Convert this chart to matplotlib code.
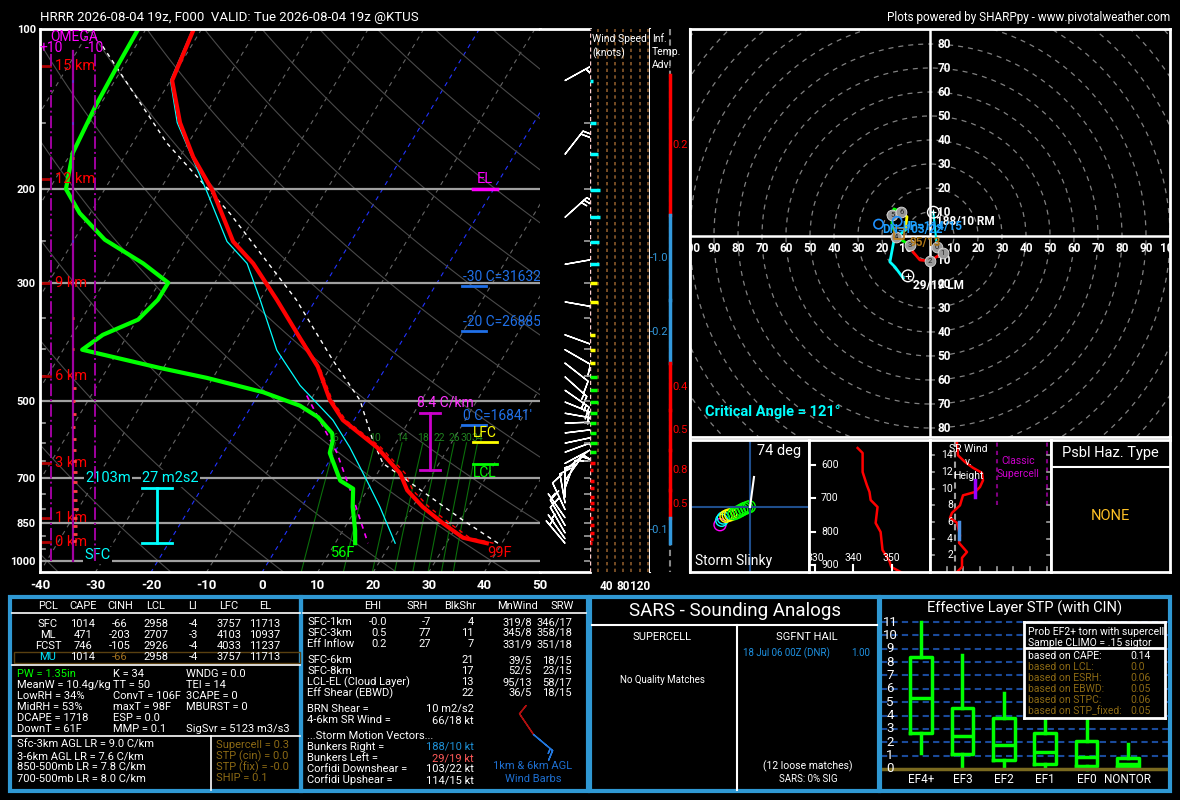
import numpy as np
import matplotlib
matplotlib.use("Agg")
import matplotlib.pyplot as plt
import matplotlib.transforms as mtrans
import matplotlib.ticker as mticker
from matplotlib.patches import Circle, Rectangle

plt.rcParams['font.family'] = ['Roboto', 'DejaVu Sans']
plt.rcParams['axes.unicode_minus'] = False

# ---------------- sounding profiles ----------------
temp_p = [927, 905, 851, 792, 737, 685, 612, 544, 499, 432, 381, 323, 276, 251, 202, 174, 150, 125, 100]
temp_c = [37.3, 32.4, 27.3, 21.8, 17.2, 14.1, 7.1, -2.0, -6.5, -12.3, -18.7, -27.0, -35.2, -41.2,
          -50.3, -57.6, -63.7, -69.7, -71.4]
virt_c = [38.5, 33.6, 28.5, 22.9, 18.2, 15.0, 7.8, -1.5, -6.1, -12.0, -18.5, -26.9, -35.2, -41.2,
          -50.3, -57.6, -63.7, -69.7, -71.4]
dwpt_p = [927, 877, 792, 732, 707, 627, 594, 576, 537, 511, 482, 453, 434, 407, 401, 376, 352, 323,
          300, 276, 249, 222, 200, 190, 171, 140, 119.5, 100]
dwpt_c = [13.6, 12.2, 9.2, 7.3, 4.1, -0.8, -1.6, -2.5, -6.8, -11.3, -19.4, -31.1, -40.6, -53.6,
          -56.6, -54.5, -49.8, -48.4, -48.4, -55.0, -64.5, -71.9, -77.0, -77.9, -79.7, -80.7, -81.1, -81.4]
wetb_p = [927, 792, 707, 612, 544, 468, 402, 323, 276, 251, 202, 150, 125, 100]
wetb_c = [20.8, 14.1, 8.9, 2.2, -3.8, -13.5, -21.5, -30.0, -36.3, -42.3, -51.4, -64.2, -70.0, -71.6]
parcel_p = [927, 839, 712, 656, 594, 499, 420, 323, 222, 164, 106]
parcel_c = [39.3, 30.5, 16.8, 9.9, 5.6, -1.1, -10.3, -23.5, -44.9, -63.8, -86.8]
dcape_p = [489, 627, 760, 927]
dcape_c = [-11.2, 0.5, 8.2, 15.9]

isobars = [100, 200, 300, 500, 700, 850, 1000]
minor_p = [150, 250, 350, 400, 450, 550, 600, 650, 750, 800, 900, 950]
mix_ratios = [6, 10, 14, 18, 22, 26, 30, 34]

km_labels = [15, 12, 9, 6, 3, 1, 0]
km_p = [117.4, 191.6, 300.6, 450, 656, 830, 923]

el_p, lfc_p, lcl_p = 200, 598, 657
frz_t = [-30, -20, 0]
frz_ft = [31632, 26885, 16841]
frz_p = [304.5, 370, 556]
lr_text, lr_top, lr_bot = '8.4 C/km', 528, 676
eff_top, eff_bot = 731, 927
eff_depth, eff_srh = '2103m', '27 m2s2'

omega_p = [125, 150, 175, 215, 250, 300, 350, 400, 474, 500, 530, 560, 590, 620, 650, 680,
           710, 740, 770, 800, 830, 860, 890, 920]
omega_v = [0.3, 0.3, -0.4, -0.4, 0.3, 0.2, -0.3, -0.5, -1.2, -1.0, -1.3, -1.1, -1.4, -1.2, -1.5,
           -1.6, -1.8, -2.0, -1.9, -2.1, -2.0, -1.8, -1.6, -1.2]

# winds (pressure, direction, speed kt)
wind_p = [125, 150, 172, 201, 226, 251, 277, 301, 326, 376, 401, 425, 451, 478, 503, 528, 551,
          575, 601, 625, 656, 676, 707, 730, 759, 778, 801, 830, 858, 886, 909, 927]
wind_d = [61, 80, 38, 45, 48, 66, 80, 98, 100, 110, 120, 128, 132, 125, 112, 100, 88, 83, 78,
          70, 62, 50, 35, 20, 0, 350, 335, 325, 330, 330, 325, 320]
wind_s = [7, 14, 19, 24, 24, 22, 22, 17, 19, 12, 12, 12, 17, 17, 19, 17, 14, 14, 17, 14, 12,
          7, 10, 10, 10, 10, 10, 7, 10, 10, 7, 5]

# inferred temperature advection layers
adv_top = [122, 224, 324, 425, 521, 620, 737, 830]
adv_bot = [224, 324, 425, 521, 620, 737, 830, 927]
adv_val = [0.2, -1.0, -0.2, 0.4, 0.5, 0.8, 0.5, -0.1]

# hodograph (km AGL, u, v in kt)
hodo_km = [0, 1, 1.5, 2, 2.5, 2.8, 3, 4, 4.5, 5, 5.5, 6, 7, 8, 9, 10, 11, 11.5, 12]
hodo_u = [2.9, 5.4, 3.3, 0.0, -4.2, -7.0, -8.3, -14.0, -15.8, -15.8, -15.0, -12.0, -9.6, -10.0,
          -10.4, -15.0, -16.7, -14.6, -11.2]
hodo_v = [-4.6, -7.1, -8.3, -10.4, -10.0, -6.7, -3.8, -0.4, 4.6, 8.8, 11.3, 10.0, 8.0, 5.0, 2.5,
          -1.7, -10.8, -12.9, -17.5]
rm_dir, rm_spd = 188, 10
lm_dir, lm_spd = 29, 19
dn_dir, dn_spd = 103, 22
up_dir, up_spd = 114, 15
mw_dir, mw_spd = 95, 13
crit_angle = 121

# storm slinky (offsets in panel pixels), theta-e, SR wind
slinky_dx = [-30, -28.3, -26.7, -24, -21.7, -19.3, -16, -13.3, -10.7, -8.3, -6, -3.3, -0.7]
slinky_dy = [17.7, 13.3, 11, 9.3, 8.3, 7.7, 6.7, 5.7, 4.3, 3, 1.7, 0.7, -0.3]
slinky_col = ['#ff00ff', '#00ffff', '#00ffff', '#ffff00', '#ffff00', '#ffff00', '#00ff00',
              '#00ff00', '#00ff00', '#00ff00', '#00ff00', '#00ff00', '#00ff00']
slinky_deg = 74
thetae_p = [549, 564, 621, 660, 681, 705, 726, 774, 801, 855, 888, 906, 927]
thetae_k = [341.1, 342.4, 342.4, 343.5, 344.2, 344.5, 346.3, 345.8, 347.1, 347.6, 349.4, 349.9, 353.3]
sr_km = [15.5, 14.0, 13.2, 12.5, 11.9, 11.0, 10.2, 9.6, 9.2, 8.0, 7.1, 6.5, 5.9, 4.4, 3.5, 2.4,
         1.7, 0.6, 0.0]
sr_kt = [16.2, 16.8, 21, 25.8, 31.2, 31.8, 30, 27, 19.8, 18, 13.2, 12, 16.2, 18, 17.4, 22.2,
         19.2, 19.2, 16.2]
sr_911, sr_46 = 27, 17.4

# tables
pcl_names = ['SFC', 'ML', 'FCST', 'MU']
pcl_cape = [1014, 471, 746, 1014]
pcl_cinh = [-66, -203, -105, -66]
pcl_lcl = [2958, 2707, 2926, 2958]
pcl_li = [-4, -3, -4, -4]
pcl_lfc = [3757, 4103, 4033, 3757]
pcl_el = [11713, 10937, 11237, 11713]
idx_col1 = ['PW = 1.35in', 'MeanW = 10.4g/kg', 'LowRH = 34%', 'MidRH = 53%', 'DCAPE = 1718', 'DownT = 61F']
idx_col2 = ['K = 34', 'TT = 50', 'ConvT = 106F', 'maxT = 98F', 'ESP = 0.0', 'MMP = 0.1']
idx_col3 = ['WNDG = 0.0', 'TEI = 14', '3CAPE = 0', 'MBURST = 0', '', 'SigSvr = 5123 m3/s3']
lr_lines = ['Sfc-3km AGL LR = 9.0 C/km', '3-6km AGL LR = 7.6 C/km', '850-500mb LR = 7.8 C/km',
            '700-500mb LR = 8.0 C/km']
svr_lines = ['Supercell = 0.3', 'STP (cin) = 0.0', 'STP (fix) = -0.0', 'SHIP = 0.1']

kin_rows = ['SFC-1km', 'SFC-3km', 'Eff Inflow']
kin_ehi = ['-0.0', '0.5', '0.2']
kin_srh = [-7, 77, 27]
kin_shr = [4, 11, 7]
kin_mnw = ['319/8', '345/8', '331/9']
kin_srw = ['346/17', '358/18', '351/18']
kin_rows2 = ['SFC-6km', 'SFC-8km', 'LCL-EL (Cloud Layer)', 'Eff Shear (EBWD)']
kin_shr2 = [21, 17, 13, 22]
kin_mnw2 = ['39/5', '52/5', '95/13', '36/5']
kin_srw2 = ['18/15', '23/15', '58/17', '18/15']
wind_1km = (326, 9)
wind_6km = (130, 16)

stp_cats = ['EF4+', 'EF3', 'EF2', 'EF1', 'EF0', 'NONTOR']
stp_lo = [1.2, 0.25, 0.05, 0.2, 0.0, 0.0]
stp_q1 = [2.7, 1.1, 0.7, 0.4, 0.2, 0.18]
stp_med = [5.3, 2.5, 1.8, 1.3, 0.9, 0.35]
stp_q3 = [8.35, 4.6, 3.8, 2.7, 2.1, 0.85]
stp_hi = [11.0, 8.5, 5.7, 4.4, 3.9, 1.9]
stp_now = 0.0
prob_names = ['CAPE', 'LCL', 'ESRH', 'EBWD', 'STPC', 'STP_fixed']
prob_vals = ['0.14', '0.0', '0.06', '0.05', '0.06', '0.05']

# ---------------- figure helpers ----------------
W, H = 1180, 800
fig = plt.figure(figsize=(11.8, 8), dpi=100)
fig.patch.set_facecolor('black')
BLUE = '#2f98d3'
BROWN = '#8b6914'


def px_axes(x0, y0, x1, y1, **kw):
    a = fig.add_axes([x0 / W, 1 - y1 / H, (x1 - x0) / W, (y1 - y0) / H], **kw)
    a.set_facecolor('black')
    return a


def frame(a, color='white', lw=1.5, sides=('left', 'right', 'top', 'bottom')):
    for s, sp in a.spines.items():
        sp.set_visible(s in sides)
        sp.set_color(color)
        sp.set_linewidth(lw)
    a.set_xticks([])
    a.set_yticks([])


def uv(d, s):
    r = np.deg2rad(d)
    return -s * np.sin(r), -s * np.cos(r)


SKEW = 25.13
P_BOT, P_TOP = 1050.0, 100.0


def skew_x(t, p):
    return np.asarray(t, float) + SKEW * np.log(P_BOT / np.asarray(p, float))


def sx(xpx):
    return (xpx - 40) / 500.0


# ---------------- skew-T ----------------
ax = px_axes(40, 29, 540, 572)
ax.set_yscale('log')
ax.set_ylim(P_BOT, P_TOP)
ax.set_xlim(-40, 50)
for s in ['left', 'top', 'bottom']:
    ax.spines[s].set_color('white')
    ax.spines[s].set_linewidth(2)
ax.spines['right'].set_visible(False)
ax.yaxis.set_minor_locator(mticker.NullLocator())
ax.set_yticks(isobars)
ax.set_yticklabels([str(p) for p in isobars])
ax.set_xticks(range(-40, 51, 10))
ax.tick_params(axis='y', length=0, colors='white', labelsize=8, pad=3)
ax.tick_params(axis='x', length=0, colors='white', labelsize=9.5, pad=5)
for lbl in ax.get_xticklabels() + ax.get_yticklabels():
    lbl.set_fontweight('bold')

pp = np.geomspace(P_TOP, P_BOT, 80)
for t in range(-100, 60, 10):
    c = '#2233ff' if t in (0, -20) else '#666666'
    ax.plot(skew_x(np.full_like(pp, t), pp), pp, color=c, lw=0.8, ls=(0, (4, 4)))
for th in range(-60, 260, 20):
    tt = (th + 273.15) * (pp / 1000.0) ** 0.2857 - 273.15
    ax.plot(skew_x(tt, pp), pp, color='#4a4a4a', lw=0.8)
pw = np.geomspace(600, P_BOT, 30)
for w in mix_ratios:
    e = w * pw / (622.0 + w)
    lg = np.log(e / 6.112)
    td = 243.5 * lg / (17.67 - lg)
    ax.plot(skew_x(td, pw), pw, color='#0b6e0b', lw=0.8)
    ax.text(skew_x(td[0], 600), 588, str(w), color='#1f7f1f', fontsize=7.5, ha='center', va='center')
for p in isobars:
    ax.axhline(p, color='#a0a0a0', lw=1.6)

trans = mtrans.blended_transform_factory(ax.transAxes, ax.transData)
for p in minor_p:
    ax.plot([0, sx(45)], [p, p], color='#a0a0a0', lw=1.2, transform=trans)
for k, p in zip(km_labels, km_p):
    ax.plot([0, sx(50)], [p, p], color='#b00000', lw=2, transform=trans)
    ax.text(sx(55), p, f'{k} km', color='#ff0000', fontsize=10.5, va='center', transform=trans)

ax.plot(skew_x(parcel_c, parcel_p), parcel_p, color='white', lw=1, ls=(0, (3, 3)))
ax.plot(skew_x(dcape_c, dcape_p), dcape_p, color='#ff00ff', lw=1.2, ls=(0, (3, 3)))
ax.plot(skew_x(wetb_c, wetb_p), wetb_p, color='#00ffff', lw=0.9)
ax.plot(skew_x(virt_c, temp_p), temp_p, color='#ff0000', lw=1, ls=(0, (3, 3)))
ax.plot(skew_x(temp_c, temp_p), temp_p, color='#ff0000', lw=3)
ax.plot(skew_x(dwpt_c, dwpt_p), dwpt_p, color='#00ff00', lw=3)

# parcel levels
ax.plot([sx(473), sx(497)], [el_p, el_p], color='#ff00ff', lw=2.5, transform=trans)
ax.text(sx(485), el_p * 0.985, 'EL', color='#ff00ff', fontsize=10.5, ha='center', va='bottom', transform=trans)
ax.plot([sx(473), sx(497)], [lfc_p, lfc_p], color='#ffff00', lw=2, transform=trans)
ax.text(sx(485), lfc_p * 0.99, 'LFC', color='#ffff00', fontsize=10, ha='center', va='bottom', transform=trans)
ax.plot([sx(473), sx(497)], [lcl_p, lcl_p], color='#00ff00', lw=2, transform=trans)
ax.text(sx(485), lcl_p * 1.01, 'LCL', color='#00ff00', fontsize=10, ha='center', va='top', transform=trans)
for t, h, p in zip(frz_t, frz_ft, frz_p):
    ax.plot([sx(462), sx(486)], [p, p], color='#2070e8', lw=2, transform=trans)
    ax.text(sx(463), p * 0.99, f"{t} C={h}'", color='#2070e8', fontsize=10, ha='left', va='bottom',
            transform=trans)
# max lapse rate bar
ax.plot([sx(430), sx(430)], [lr_top, lr_bot], color='#cc00cc', lw=2, transform=trans)
for p in (lr_top, lr_bot):
    ax.plot([sx(420), sx(440)], [p, p], color='#cc00cc', lw=2, transform=trans)
ax.text(sx(445), lr_top * 0.955, lr_text, color='#ff33ff', fontsize=10, ha='center', va='center', transform=trans)
# effective inflow
ax.plot([sx(157), sx(157)], [eff_top, eff_bot], color='#00ffff', lw=2, transform=trans)
for p in (eff_top, eff_bot):
    ax.plot([sx(142), sx(172)], [p, p], color='#00ffff', lw=2, transform=trans)
bb = dict(facecolor='black', edgecolor='none', pad=1)
ax.text(sx(85), 700, eff_depth, color='#00ffff', fontsize=10.5, va='center', transform=trans, bbox=bb)
ax.text(sx(142), 700, eff_srh, color='#00ffff', fontsize=10.5, va='center', transform=trans, bbox=bb)
ax.text(sx(84), 977, 'SFC', color='#00ffff', fontsize=10.5, va='center', transform=trans, bbox=bb)
ax.text(skew_x(dwpt_c[0], dwpt_p[0]), 966, '56F', color='#00ff00', fontsize=10.5, ha='right', va='center')
ax.text(skew_x(temp_c[0], temp_p[0]), 966, '99F', color='#ff0000', fontsize=10.5, ha='left', va='center')

# omega overlay
ax_om = px_axes(40, 29, 106, 572)
ax_om.patch.set_alpha(0)
ax_om.set_yscale('log')
ax_om.set_ylim(P_BOT, P_TOP)
ax_om.set_xlim(15, -15)
ax_om.axis('off')
for xv in (10, -10):
    ax_om.plot([xv, xv], [1000, 110], color='#a000a0', lw=1.4, ls='-.')
ax_om.plot([0, 0], [1000, 110], color='#a000a0', lw=1.6)
ax_om.hlines(omega_p, 0, omega_v, colors=['#ff4040' if v < 0 else '#3050ff' for v in omega_v], lw=2)
fig.text(50 / W, 1 - 37 / H, 'OMEGA', color='#ff00ff', fontsize=10, va='center')
fig.text(39 / W, 1 - 48 / H, '+10', color='#ff00ff', fontsize=10, va='center')
fig.text(85 / W, 1 - 48 / H, '-10', color='#ff00ff', fontsize=10, va='center')

# barbs column
axb = px_axes(540, 29, 590, 572)
frame(axb, lw=2, sides=('top', 'bottom'))
axb.set_yscale('log')
axb.set_ylim(P_BOT, P_TOP)
axb.set_xlim(0, 50)
axb.yaxis.set_minor_locator(mticker.NullLocator())
axb.set_yticks([])
axb.hlines(minor_p + isobars[1:], 44, 50, color='#a0a0a0', lw=1.2)
bu, bv = uv(np.array(wind_d), np.array(wind_s))
keep = np.array([p >= 326 or i % 2 == 0 for i, p in enumerate(wind_p)])
axb.barbs(np.full(keep.sum(), 25.0), np.array(wind_p)[keep], bu[keep], bv[keep], length=6.5,
          color='white', lw=1, sizes=dict(emptybarb=0.0))

# wind speed column
ax_ws = px_axes(590, 29, 650, 572)
frame(ax_ws, lw=1.5, sides=('right',))
ax_ws.set_yscale('log')
ax_ws.set_ylim(P_BOT, P_TOP)
ax_ws.yaxis.set_minor_locator(mticker.NullLocator())
ax_ws.set_yticks([])
ax_ws.set_xlim(0, 145)
for k in range(20, 145, 20):
    ax_ws.axvline(k, color='#8b5a2b', lw=1.2, ls=(0, (2, 2)))
ax_ws.axvline(1, color='#ffd0d0', lw=1, ls=(0, (3, 2)))


def hcolor(p):
    if p >= km_p[4]:
        return '#ff0000'
    if p >= km_p[3]:
        return '#00ff00'
    if p >= km_p[2]:
        return '#ffff00'
    return '#00ffff'


ax_ws.hlines(wind_p, 0, wind_s, colors=[hcolor(p) for p in wind_p], lw=2.5)
fig.text(592 / W, 1 - 39 / H, 'Wind Speed', color='white', fontsize=7.5, va='center')
fig.text(592 / W, 1 - 53 / H, '(knots)', color='white', fontsize=7.5, va='center')
for k in (40, 80, 120):
    ax_ws.text(k, -0.015, str(k), color='white', fontsize=8.5, fontweight='bold', ha='center', va='top',
               transform=ax_ws.get_xaxis_transform())

# inferred temperature advection
ax_ta = px_axes(650, 29, 690, 572)
frame(ax_ta, lw=1.5, sides=('right',))
ax_ta.set_yscale('log')
ax_ta.set_ylim(P_BOT, P_TOP)
ax_ta.yaxis.set_minor_locator(mticker.NullLocator())
ax_ta.set_yticks([])
ax_ta.set_xlim(0, 40)
ax_ta.plot([19.5, 19.5], [P_TOP, P_BOT], color='#888888', lw=1.5, ls=(0, (3, 2)))
for t, b, v in zip(adv_top, adv_bot, adv_val):
    c = '#ff0000' if v > 0 else '#3399dd'
    ax_ta.plot([20, 20], [t, b], color=c, lw=2.5)
    pm = np.sqrt(t * b)
    if v > 0:
        ax_ta.text(22, pm, f'{v:.1f}', color=c, fontsize=8, ha='left', va='center')
    else:
        ax_ta.text(18, pm, f'{v:.1f}', color=c, fontsize=8, ha='right', va='center')
for i, s in enumerate(['Inf.', 'Temp.', 'Adv.']):
    fig.text(652 / W, 1 - (39 + 13 * i) / H, s, color='white', fontsize=7.5, va='center')

# ---------------- hodograph ----------------
ax_h = px_axes(690, 29, 1170, 437)
frame(ax_h, lw=2)
ax_h.set_xlim(-100, 100)
ax_h.set_ylim(-83.75, 86.25)
for r in range(10, 150, 10):
    ax_h.add_patch(Circle((0, 0), r, fill=False, ec='#808080', lw=0.9, ls=(0, (4, 4))))
ax_h.axhline(0, color='white', lw=1.8)
ax_h.axvline(0, color='white', lw=1.8)
for r in range(10, 101, 10):
    for sgn in (-1, 1):
        ax_h.text(sgn * r, -5, str(r), color='white', fontsize=8.5, fontweight='bold', ha='center',
                  va='center', clip_on=True)
        if r <= 80:
            ax_h.text(3, sgn * r, str(r), color='white', fontsize=8.5, fontweight='bold', ha='left',
                      va='center', clip_on=True)
km = np.array(hodo_km)
hu, hv = np.array(hodo_u), np.array(hodo_v)
for lo, hi, c in [(0, 3, '#ff0000'), (3, 6, '#00ff00'), (6, 9, '#ffff00'), (9, 12, '#00ffff')]:
    m = (km >= lo) & (km <= hi)
    ax_h.plot(hu[m], hv[m], color=c, lw=2, zorder=4)
rmu, rmv = uv(rm_dir, rm_spd)
lmu, lmv = uv(lm_dir, lm_spd)
dnu, dnv = uv(dn_dir, dn_spd)
upu, upv = uv(up_dir, up_spd)
mwu, mwv = uv(mw_dir, mw_spd)
ax_h.plot([hu[0], rmu], [hv[0], rmv], color='#00ffff', lw=1.5, zorder=4)
for k in range(0, 7):
    i = hodo_km.index(k)
    ax_h.scatter(hu[i], hv[i], s=60, c='#9a9a9a', edgecolors='#dddddd', linewidths=0.6, zorder=5)
    ax_h.text(hu[i], hv[i], str(k), fontsize=5.5, color='#222222', ha='center', va='center', zorder=6)
for mu_, mv_ in ((rmu, rmv), (lmu, lmv)):
    ax_h.scatter(mu_, mv_, s=70, facecolors='none', edgecolors='white', linewidths=1, zorder=6)
    ax_h.scatter(mu_, mv_, s=25, marker='+', c='white', linewidths=0.8, zorder=6)
ax_h.scatter([dnu, upu], [dnv, upv], s=45, facecolors='none', edgecolors='#1e90ff', linewidths=1.2, zorder=6)
ax_h.scatter(mwu, mwv, s=60, marker='s', facecolors='none', edgecolors='#c08020', linewidths=1.2, zorder=6)
ax_h.text(rmu + 1.1, rmv - 3.7, f'{rm_dir}/{rm_spd} RM', color='white', fontsize=8.5, fontweight='bold',
          va='center', zorder=7)
ax_h.text(lmu + 2.1, lmv - 4.2, f'{lm_dir}/{lm_spd} LM', color='white', fontsize=8.5, fontweight='bold',
          va='center', zorder=7)
ax_h.text(dnu + 1.4, dnv - 2.4, f'DN={dn_dir}/{dn_spd}', color='#1ea0ff', fontsize=8.5, fontweight='bold',
          va='center', zorder=7)
ax_h.text(upu + 2.0, upv - 2.3, f'UP={up_dir}/{up_spd}', color='#1ea0ff', fontsize=8.5, fontweight='bold',
          va='center', zorder=7)
ax_h.text(mwu + 4.6, mwv - 4.0, f'{mw_dir}/{mw_spd}', color='#b07818', fontsize=8.5, fontweight='bold',
          va='center', zorder=7)
fig.text(705 / W, 1 - 412 / H, f'Critical Angle = {crit_angle}°', color='#00ffff', fontsize=10.5,
         fontweight='bold', va='center')

# ---------------- small panels ----------------
ax_sl = px_axes(690, 440, 809, 572)
frame(ax_sl, lw=2)
ax_sl.set_xlim(-60, 59)
ax_sl.set_ylim(65, -67)
ax_sl.axvline(0, color='#1f4e8c', lw=1.5)
ax_sl.axhline(0, color='#1f4e8c', lw=1.5)
ax_sl.scatter(slinky_dx, slinky_dy, s=75, facecolors='none', edgecolors=slinky_col, linewidths=1)
ax_sl.plot([0, 4], [0, -30], color='white', lw=1.5)
ax_sl.text(0.93, 0.92, f'{slinky_deg} deg', color='white', fontsize=10.5, ha='right', va='center',
           transform=ax_sl.transAxes)
ax_sl.text(0.04, 0.03, 'Storm Slinky', color='white', fontsize=10, ha='left', va='bottom',
           transform=ax_sl.transAxes)

ax_te = px_axes(809, 440, 930, 572)
frame(ax_te, lw=2)
ax_te.set_ylim(921, 525)
ax_te.set_xlim(328.4, 360)
ax_te.plot(thetae_k, thetae_p, color='#ff0000', lw=1.8)
tty = ax_te.get_yaxis_transform()
ttx = ax_te.get_xaxis_transform()
for p in (600, 700, 800, 900):
    ax_te.plot([0, 0.05], [p, p], color='white', lw=1.5, transform=tty)
    ax_te.text(0.1, p, str(p), color='white', fontsize=7.5, ha='left', va='center', transform=tty)
for k in (330, 340, 350):
    ax_te.plot([k, k], [0, 0.05], color='white', lw=1.5, transform=ttx)
    ax_te.text(k, 0.07, str(k), color='white', fontsize=7.5, ha='center', va='bottom', transform=ttx,
               clip_on=True)

ax_sr = px_axes(930, 440, 1051, 572)
frame(ax_sr, lw=2)
ax_sr.set_xlim(0, 72.6)
ax_sr.set_ylim(0, 15.84)
ax_sr.axvline(15, color='#a0a0a0', lw=1.5, ls=(0, (3, 2)))
for k in (40, 70):
    ax_sr.plot([k, k], [8, 15.84], color='#800080', lw=1.5, ls=(0, (2, 2)))
srt = ax_sr.get_yaxis_transform()
for k in range(2, 15, 2):
    ax_sr.plot([0, 0.03], [k, k], color='#a0a0a0', lw=1.2, transform=srt)
    ax_sr.plot([0.97, 1], [k, k], color='#a0a0a0', lw=1.2, transform=srt)
    ax_sr.text(0.19, k, str(k), color='white', fontsize=7.5, ha='right', va='center', transform=srt)
for k in range(10, 71, 10):
    ax_sr.plot([k, k], [0, 0.04], color='#a0a0a0', lw=1.2, transform=ax_sr.get_xaxis_transform())
ax_sr.plot(sr_kt, sr_km, color='#ff0000', lw=1.8)
ax_sr.plot([sr_911, sr_911], [9, 11], color='#9900ff', lw=2.5)
ax_sr.plot([sr_46, sr_46], [4, 6], color='#4a90e2', lw=2.5)
for i, s in enumerate(['SR Wind', 'v.', 'Height']):
    ax_sr.text(0.32, 0.93 - 0.1 * i, s, color='white', fontsize=7.5, ha='center', va='center',
               transform=ax_sr.transAxes)
ax_sr.text(0.73, 0.84, 'Classic', color='#cc00cc', fontsize=7.5, ha='center', va='center', transform=ax_sr.transAxes)
ax_sr.text(0.73, 0.74, 'Supercell', color='#cc00cc', fontsize=7.5, ha='center', va='center', transform=ax_sr.transAxes)

ax_hz = px_axes(1051, 440, 1170, 572)
frame(ax_hz, lw=2)
ax_hz.axhline(0.795, color='white', lw=1.5)
ax_hz.text(0.5, 0.9, 'Psbl Haz. Type', color='white', fontsize=10.5, ha='center', va='center',
           transform=ax_hz.transAxes)
ax_hz.text(0.5, 0.424, 'NONE', color='#ffc125', fontsize=10.5, ha='center', va='center',
           transform=ax_hz.transAxes)

# ---------------- STP box plot ----------------
ax_b = px_axes(881, 618, 1168, 775)
ax_b.patch.set_alpha(0)
frame(ax_b, sides=())
ax_b.set_xlim(0.03, 6.97)
ax_b.set_ylim(-0.45, 11.3)
for k in range(1, 12):
    ax_b.axhline(k, color='#1a4a9a', lw=1.5, ls=(0, (3, 2)))
stats = [dict(med=m, q1=a, q3=b, whislo=lo, whishi=hi, fliers=[])
         for m, a, b, lo, hi in zip(stp_med, stp_q1, stp_q3, stp_lo, stp_hi)]
gp = dict(color='#00ff00', lw=2.5)
ax_b.bxp(stats, positions=range(1, 7), widths=0.52, showcaps=False, showfliers=False,
         boxprops=gp, whiskerprops=gp, medianprops=gp)
ax_b.axhline(stp_now, color='#7a6a20', lw=2.5)
ax_b.set_xticks([])
ax_b.set_yticks([])
for k in range(0, 12):
    ax_b.text(0.031, k, str(k), color='white', fontsize=9.5, ha='center', va='center',
              transform=ax_b.get_yaxis_transform())
for i, c in enumerate(stp_cats):
    ax_b.text(i + 1, -0.026, c, color='white', fontsize=8.5, ha='center', va='center',
              transform=ax_b.get_xaxis_transform())

ax_in = px_axes(1024, 622, 1165, 718)
frame(ax_in, lw=2)
ax_in.set_xlim(1024, 1165)
ax_in.set_ylim(718, 622)
ax_in.axhline(648, color='white', lw=2)
ax_in.text(1028, 632, 'Prob EF2+ torn with supercell', color='white', fontsize=7.5, va='center', clip_on=True)
ax_in.text(1028, 643, 'Sample CLIMO = .15 sigtor', color='white', fontsize=7.5, va='center', clip_on=True)
for i, (n, v) in enumerate(zip(prob_names, prob_vals)):
    c = 'white' if i == 0 else BROWN
    ax_in.text(1028, 656 + 11 * i, f'based on {n}:', color=c, fontsize=7.5, va='center')
    ax_in.text(1130, 656 + 11 * i, v, color=c, fontsize=7.5, va='center')

# ---------------- overlay: header, tables, frames ----------------
ov = fig.add_axes([0, 0, 1, 1], zorder=20)
ov.set_xlim(0, W)
ov.set_ylim(H, 0)
ov.axis('off')


def T(x, y, s, **kw):
    kw.setdefault('color', 'white')
    kw.setdefault('fontsize', 8)
    kw.setdefault('va', 'center')
    ov.text(x, y, s, **kw)


T(40, 17, 'HRRR 2026-08-04 19z, F000  VALID: Tue 2026-08-04 19z @KTUS', fontsize=9.5)
T(1170, 17, 'Plots powered by SHARPpy - www.pivotalweather.com', fontsize=8.5, ha='right')

for x0, x1 in [(10, 301), (301, 588), (590, 879), (880, 1170)]:
    ov.add_patch(Rectangle((x0, 597), x1 - x0, 194, fill=False, ec=BLUE, lw=3))

# thermo table
cols = [48, 83, 120, 156, 193, 229, 265]
for x, hname in zip(cols, ['PCL', 'CAPE', 'CINH', 'LCL', 'LI', 'LFC', 'EL']):
    T(x, 606, hname, ha='center')
ov.plot([12, 300], [613, 613], color='white', lw=1.2)
for r, name in enumerate(pcl_names):
    y = 624 + 11 * r
    vals = [name, pcl_cape[r], pcl_cinh[r], pcl_lcl[r], pcl_li[r], pcl_lfc[r], pcl_el[r]]
    for j, (x, v) in enumerate(zip(cols, vals)):
        c = 'white'
        if name == 'MU' and j == 0:
            c = '#00e5ff'
        elif name == 'MU' and j == 2:
            c = '#a07020'
        T(x, y, str(v), ha='center', color=c)
ov.add_patch(Rectangle((14, 652), 286, 11, fill=False, ec='#5a4010', lw=1))
ov.plot([12, 300], [665, 665], color='white', lw=1.2)
for r in range(6):
    y = 674 + 11 * r
    T(17, y, idx_col1[r], color='#00ff00' if r == 0 else 'white')
    T(113, y, idx_col2[r])
    T(186, y, idx_col3[r])
ov.plot([12, 300], [736, 736], color='white', lw=1.2)
ov.plot([211, 211], [736, 790], color='white', lw=1.2)
for r in range(4):
    T(17, 745 + 11 * r, lr_lines[r])
    T(216, 745 + 11 * r, svr_lines[r], color=BROWN)

# kinematic table
for x, hname in zip([373, 417, 460, 517, 562], ['EHI', 'SRH', 'BlkShr', 'MnWind', 'SRW']):
    T(x, 606, hname, ha='center')
ov.plot([303, 586], [613, 613], color='white', lw=1.2)
for r in range(3):
    y = 622 + 11 * r
    T(307, y, kin_rows[r])
    T(387, y, kin_ehi[r], ha='right')
    T(431, y, str(kin_srh[r]), ha='right')
    T(474, y, str(kin_shr[r]), ha='right')
    T(532, y, kin_mnw[r], ha='right')
    T(572, y, kin_srw[r], ha='right')
for r in range(4):
    y = 660 + 11 * r
    T(307, y, kin_rows2[r])
    T(474, y, str(kin_shr2[r]), ha='right')
    T(532, y, kin_mnw2[r], ha='right')
    T(572, y, kin_srw2[r], ha='right')
T(307, 709, 'BRN Shear =')
T(474, 709, '10 m2/s2', ha='right')
T(307, 720, '4-6km SR Wind =')
T(474, 720, '66/18 kt', ha='right')
T(307, 736, '...Storm Motion Vectors...')
motion = [('Bunkers Right =', f'{rm_dir}/{rm_spd} kt', '#1e90d6'),
          ('Bunkers Left =', f'{lm_dir}/{lm_spd} kt', '#ff5a5a'),
          ('Corfidi Downshear =', f'{dn_dir}/{dn_spd} kt', 'white'),
          ('Corfidi Upshear =', f'{up_dir}/{up_spd} kt', 'white')]
for r, (lab, val, c) in enumerate(motion):
    T(307, 747 + 11 * r, lab)
    T(474, 747 + 11 * r, val, ha='right', color=c)
T(533, 766, '1km & 6km AGL', ha='center', color='#1e6fd0')
T(533, 779, 'Wind Barbs', ha='center', color='#1e6fd0')
u1, v1 = uv(*wind_1km)
u6, v6 = uv(*wind_6km)
ov.barbs([533], [734], [u1], [v1], length=6, color='#b01010', lw=1)
ov.barbs([533], [734], [u6], [v6], length=6, color='#2277dd', lw=1)

# SARS
T(735, 611, 'SARS - Sounding Analogs', ha='center', fontsize=13.5)
ov.plot([592, 877], [625, 625], color='white', lw=1.5)
ov.plot([737, 737], [625, 790], color='white', lw=1.5)
T(662, 637, 'SUPERCELL', ha='center')
T(807, 637, 'SGFNT HAIL', ha='center')
T(662, 680, 'No Quality Matches', ha='center', fontsize=7)
T(743, 653, '18 Jul 06 00Z (DNR)', color='#1e90e0', fontsize=7)
T(870, 653, '1.00', color='#1e90e0', fontsize=7, ha='right')
T(808, 766, '(12 loose matches)', ha='center', fontsize=7.5)
T(808, 779, 'SARS: 0% SIG', ha='center', fontsize=7)
T(1025, 608, 'Effective Layer STP (with CIN)', ha='center', fontsize=10.5)

fig.savefig('out.png', dpi=100, facecolor='black')
